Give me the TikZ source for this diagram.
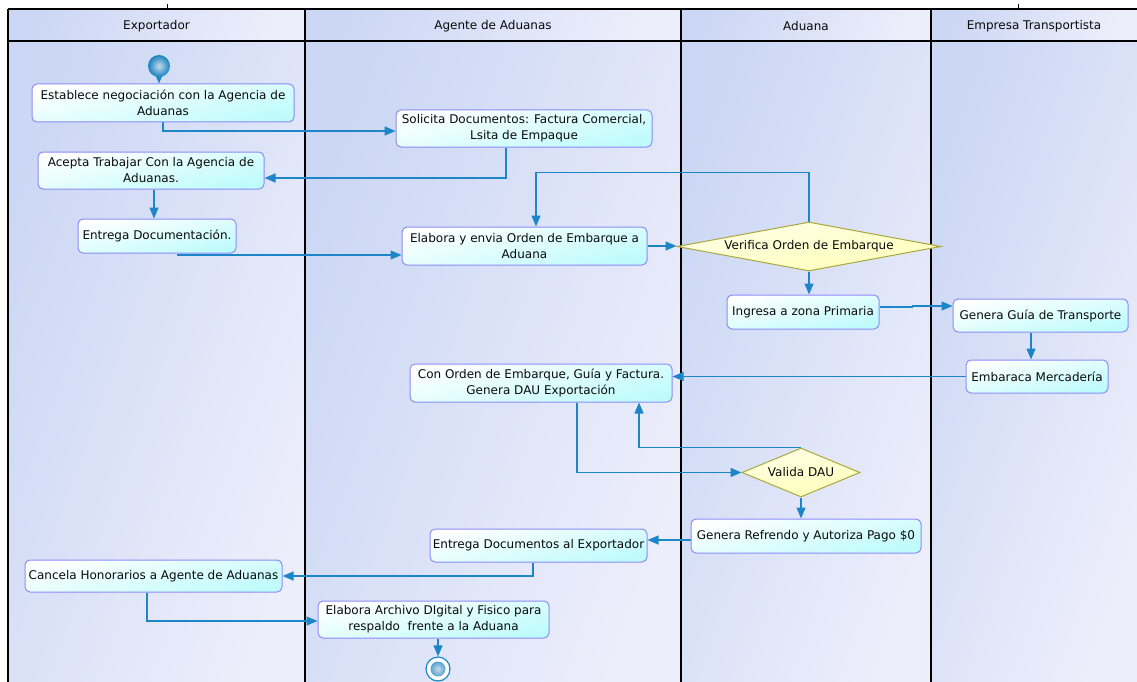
\documentclass[tikz,border=0pt]{standalone}
\usepackage{fontspec}
\setmainfont{DejaVu Sans}
\usetikzlibrary{shapes.geometric,arrows.meta}

\definecolor{flowblue}{RGB}{28,134,200}
\definecolor{actborder}{RGB}{140,140,248}
\definecolor{actfill}{RGB}{190,251,251}
\definecolor{decborder}{RGB}{168,168,60}
\definecolor{decfilltop}{RGB}{255,255,232}
\definecolor{decfillbot}{RGB}{255,255,184}
\definecolor{lanedark}{RGB}{203,215,244}
\definecolor{lanelight}{RGB}{237,238,251}
\definecolor{ballcore}{RGB}{200,218,232}
\definecolor{ballrim}{RGB}{22,130,192}
\definecolor{inktext}{RGB}{10,10,10}

\pgfdeclarelayer{lanes}
\pgfdeclarelayer{edges}
\pgfsetlayers{lanes,edges,main}

\begin{document}
\begin{tikzpicture}[x=1pt,y=-1pt,
  every node/.style={font=\fontsize{12}{16}\selectfont, text=inktext},
  activity/.style={draw=actborder, line width=1pt, rounded corners=5pt,
    top color=white, bottom color=actfill, shading angle=12,
    inner sep=0pt, align=center},
  decision/.style={diamond, draw=decborder, line width=1pt,
    top color=decfilltop, bottom color=decfillbot, shading angle=10,
    inner sep=0pt, aspect=#1},
  lanefill/.style={left color=lanedark, right color=lanelight, shading angle=70},
  frame/.style={draw=black, line width=1.1pt},
  flow/.style={draw=flowblue, line width=1.3pt,
    -{Triangle[length=11pt,width=9pt]}},
  startnode/.style={circle, minimum size=22pt, inner sep=0pt,
    inner color=ballcore, outer color=ballrim},
  endnode/.style={circle, minimum size=24pt, inner sep=0pt, draw=flowblue,
    line width=1.2pt, fill=white,
    path picture={\shade[inner color=ballcore, outer color=ballrim]
      (path picture bounding box.center) circle (7.5pt);}},
  lanehead/.style={anchor=center}]

\useasboundingbox (0,0) rectangle (1137,682);

% swimlane backgrounds and frame
\begin{pgfonlayer}{lanes}
  \fill[white] (0,0) rectangle (1137,682);
  \shade[lanefill] (8,9) rectangle (305,41);
  \shade[lanefill] (305,9) rectangle (681,41);
  \shade[lanefill] (681,9) rectangle (931,41);
  \shade[lanefill] (931,9) rectangle (1137,41);
  \shade[lanefill] (8,41) rectangle (305,682);
  \shade[lanefill] (305,41) rectangle (681,682);
  \shade[lanefill] (681,41) rectangle (931,682);
  \shade[lanefill] (931,41) rectangle (1137,682);
  \draw[frame] (8,9) -- (1137,9);
  \draw[frame] (8,41) -- (1137,41);
  \draw[frame] (8,9) -- (8,682);
  \draw[frame] (305,9) -- (305,682);
  \draw[frame] (681,9) -- (681,682);
  \draw[frame] (931,9) -- (931,682);
  \draw[black, line width=0.9pt] (167,4) -- (167,9);
  \draw[black, line width=0.9pt] (1018,4) -- (1018,9);
\end{pgfonlayer}

% lane titles
\node[lanehead] (hexp) at (156.5,26) {Exportador};
\node[lanehead] (hage) at (493,26) {Agente de Aduanas};
\node[lanehead] (hadu) at (806,26) {Aduana};
\node[lanehead] (htra) at (1034,26) {Empresa Transportista};

% activities
\node[startnode] (start) at (159,66) {};
\node[activity, minimum width=262pt, minimum height=38pt] (est) at (163,103)
  {Establece negociación con la Agencia de\\Aduanas};
\node[activity, minimum width=256pt, minimum height=37pt] (solicita) at (524,128.5)
  {Solicita Documentos: Factura Comercial,\\Lsita de Empaque};
\node[activity, minimum width=226pt, minimum height=37pt] (acepta) at (151,170.5)
  {Acepta Trabajar Con la Agencia de\\Aduanas.};
\node[activity, minimum width=158pt, minimum height=34pt] (entrega) at (157,236)
  {Entrega Documentación.};
\node[activity, minimum width=245pt, minimum height=38pt] (elabora) at (524.5,246)
  {Elabora y envia Orden de Embarque a\\Aduana};
\node[decision=5.4, minimum width=264pt, minimum height=49pt] (verifica) at (809,246.5)
  {Verifica Orden de Embarque};
\node[activity, minimum width=152pt, minimum height=34pt] (ingresa) at (803,312)
  {Ingresa a zona Primaria};
\node[activity, minimum width=175pt, minimum height=33pt] (guia) at (1040.5,315.5)
  {Genera Guía de Transporte};
\node[activity, minimum width=142pt, minimum height=33pt] (embarca) at (1037,376.5)
  {Embaraca Mercadería};
\node[activity, minimum width=262pt, minimum height=38pt] (conorden) at (541,383)
  {Con Orden de Embarque, Guía y Factura.\\Genera DAU Exportación};
\node[decision=2.4, minimum width=118pt, minimum height=49pt] (valida) at (801,472.5)
  {Valida DAU};
\node[activity, minimum width=230pt, minimum height=34pt] (refrendo) at (806,536)
  {Genera Refrendo y Autoriza Pago \$0};
\node[activity, minimum width=217pt, minimum height=33pt] (entregaexp) at (538.5,545.5)
  {Entrega Documentos al Exportador};
\node[activity, minimum width=257pt, minimum height=32pt] (cancela) at (153.5,576)
  {Cancela Honorarios a Agente de Aduanas};
\node[activity, minimum width=231pt, minimum height=37pt] (archivo) at (433.5,619.5)
  {Elabora Archivo DIgital y Fisico para\\respaldo\ \ frente a la Aduana};
\node[endnode] (end) at (438,669) {};

% control flow
\coordinate (loopup) at ([yshift=49pt]verifica.north);
\coordinate (ingout) at ([yshift=5pt]ingresa.east);
\coordinate (ingstep) at ([xshift=33pt]ingout);
\coordinate (refout) at ([yshift=-4pt]refrendo.west);
\begin{pgfonlayer}{edges}
  \draw[flow] (start) -- (start |- est.north);
  \draw[flow] (est.south) |- ([yshift=-2.5pt]solicita.west);
  \draw[flow] ([xshift=-18pt]solicita.south) |- ([yshift=-7.5pt]acepta.east);
  \draw[flow] ([xshift=3pt]acepta.south) -- ([xshift=-3pt]entrega.north);
  \draw[flow] ([xshift=21pt]entrega.south) |- ([yshift=-9pt]elabora.west);
  \draw[flow] (verifica.north) -- (loopup) -| ([xshift=11.5pt]elabora.north);
  \draw[flow] (elabora.east) -- (elabora.east -| verifica.west);
  \draw[flow] (verifica.south) -- (verifica.south |- ingresa.north);
  \draw[flow] (ingout) -- (ingstep) |- ([yshift=9.5pt]guia.west);
  \draw[flow] ([xshift=-9.5pt]guia.south) -- ([xshift=-6pt]embarca.north);
  \draw[flow] (embarca.west) -- (embarca.west -| conorden.east);
  \draw[flow] ([xshift=36pt]conorden.south) |- (valida.west);
  \draw[flow] (valida.north) -| ([xshift=98pt]conorden.south);
  \draw[flow] (valida.south) -- (valida.south |- refrendo.north);
  \draw[flow] (refout) -- (refout -| entregaexp.east);
  \draw[flow] ([xshift=-5.5pt]entregaexp.south) |- (cancela.east);
  \draw[flow] ([xshift=-6.5pt]cancela.south) |- ([yshift=-1.5pt]archivo.west);
  \draw[flow] (archivo.south -| end) -- (end.north);
\end{pgfonlayer}

\end{tikzpicture}
\end{document}
